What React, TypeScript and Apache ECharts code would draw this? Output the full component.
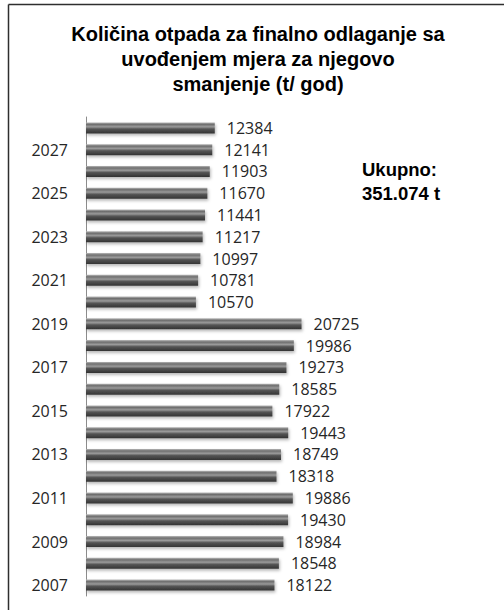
import React, { useEffect, useRef } from "react";
import * as echarts from "echarts";

const years: string[] = [
  "2007", "2008", "2009", "2010", "2011", "2012", "2013", "2014", "2015", "2016", "2017",
  "2018", "2019", "2020", "2021", "2022", "2023", "2024", "2025", "2026", "2027", "2028",
];
const values: number[] = [
  18122, 18548, 18984, 19430, 19886, 18318, 18749, 19443, 17922, 18585, 19273,
  19986, 20725, 10570, 10781, 10997, 11217, 11441, 11670, 11903, 12141, 12384,
];
const titleLines: string[] = [
  "Količina otpada za finalno odlaganje sa",
  "uvođenjem mjera za njegovo",
  "smanjenje (t/ god)",
];
const totalLines: string[] = ["Ukupno:", "351.074 t"];

export default function App() {
  const ref = useRef<HTMLDivElement>(null);
  useEffect(() => {
    if (!ref.current) return;
    const chart = echarts.init(ref.current, null, { renderer: "svg" });
    const barGradient = new echarts.graphic.LinearGradient(0, 0, 0, 1, [
      { offset: 0, color: "#b8b8b8" },
      { offset: 0.18, color: "#6e6e6e" },
      { offset: 0.4, color: "#9a9a9a" },
      { offset: 0.6, color: "#555555" },
      { offset: 1, color: "#333333" },
    ]);
    chart.setOption({
      animation: false,
      backgroundColor: "#ffffff",
      grid: { left: 86, top: 117, bottom: 14, right: 158, containLabel: false },
      xAxis: {
        type: "value",
        min: 0,
        max: 25000,
        show: false,
      },
      yAxis: {
        type: "category",
        data: years,
        axisLine: { show: true, lineStyle: { color: "#8c8c8c", width: 1 } },
        axisTick: { show: false },
        splitLine: { show: false },
        axisLabel: {
          interval: 1,
          margin: 18,
          color: "#262626",
          fontFamily: "Open Sans",
          fontSize: 16,
        },
      },
      series: [
        {
          type: "bar",
          data: values,
          barWidth: 11,
          itemStyle: {
            color: barGradient,
            shadowColor: "rgba(0,0,0,0.28)",
            shadowBlur: 3,
            shadowOffsetY: 2,
            shadowOffsetX: 1,
          },
          label: {
            show: true,
            position: "right",
            distance: 12,
            color: "#262626",
            fontFamily: "Open Sans",
            fontSize: 16,
          },
        },
      ],
      graphic: [
        {
          type: "line",
          shape: { x1: 8.5, y1: 4.5, x2: 504, y2: 4.5 },
          style: { stroke: "#2e2e2e", lineWidth: 1.5 },
        },
        {
          type: "line",
          shape: { x1: 8.5, y1: 4.5, x2: 8.5, y2: 610 },
          style: { stroke: "#2e2e2e", lineWidth: 1.5 },
        },
        {
          type: "text",
          x: 258,
          y: 21,
          style: {
            text: titleLines.join("\n"),
            fontFamily: "Liberation Sans",
            fontWeight: "bold",
            fontSize: 20,
            lineHeight: 25,
            fill: "#000000",
            textAlign: "center",
            textVerticalAlign: "top",
          },
        },
        {
          type: "text",
          x: 362,
          y: 157,
          style: {
            text: totalLines.join("\n"),
            fontFamily: "Liberation Sans",
            fontWeight: "bold",
            fontSize: 18.5,
            lineHeight: 24,
            fill: "#000000",
            textAlign: "left",
            textVerticalAlign: "top",
          },
        },
      ],
    });
    return () => chart.dispose();
  }, []);
  return (
    <div
      ref={ref}
      style={{ position: "fixed", left: 0, top: 0, width: 504, height: 610, background: "#fff" }}
    />
  );
}
